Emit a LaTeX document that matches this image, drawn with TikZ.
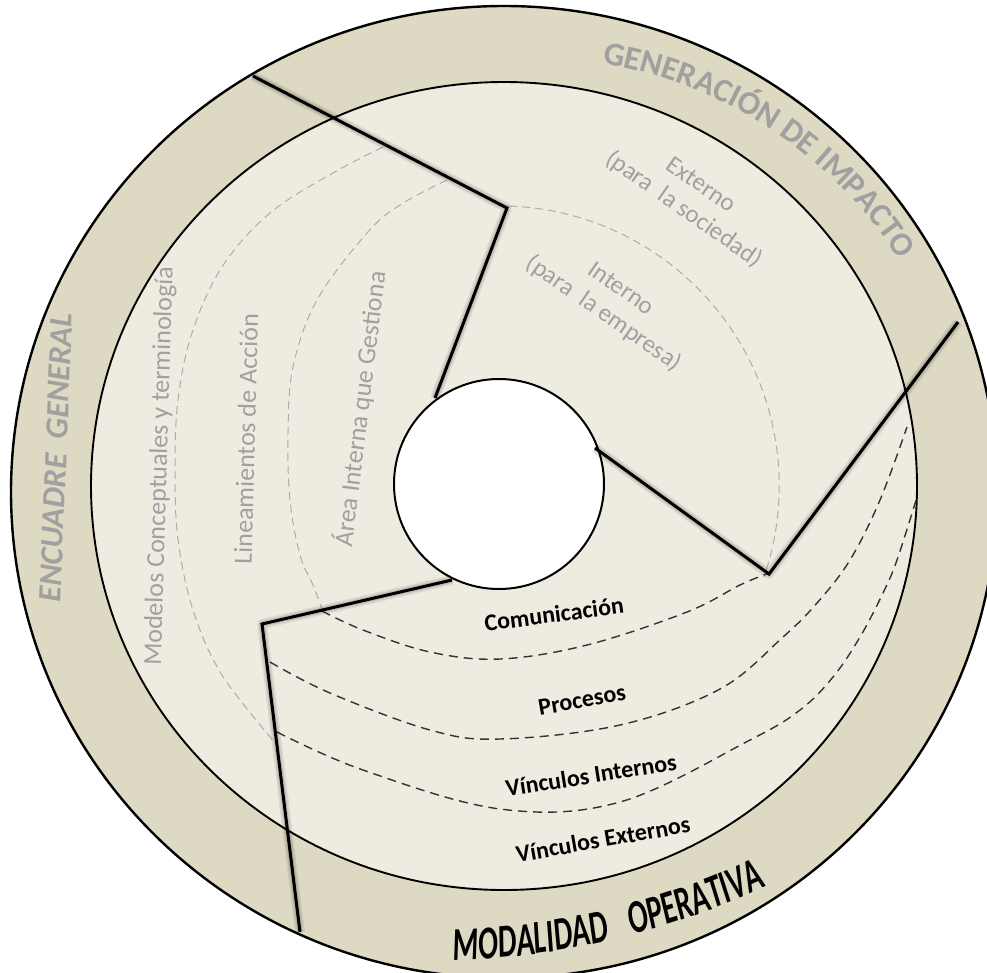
\documentclass[tikz,border=0pt]{standalone}
\usepackage{fontspec}
\setmainfont{Carlito}
\newfontfamily\bandfont[FakeStretch=0.63]{Carlito}
\usetikzlibrary{decorations.text}
\definecolor{band}{RGB}{221,217,195}
\definecolor{face}{RGB}{238,236,225}
\definecolor{labelgray}{RGB}{160,160,160}
\definecolor{guidegray}{RGB}{172,172,172}
\begin{document}
\begin{tikzpicture}[x=1pt,y=-1pt,
  rim/.style={line width=2.4pt},
  innerrim/.style={line width=1.9pt},
  divider/.style={line width=3pt, line join=miter},
  dividershade/.style={line width=#1, black, opacity=0.07, line join=round},
  softguide/.style={guidegray, line width=1pt, dash pattern=on 8pt off 5pt},
  darkguide/.style={black!80, line width=1.4pt, dash pattern=on 9pt off 6pt},
  sectorlabel/.style={labelgray, font=\fontsize{26}{29}\selectfont, inner sep=0pt},
  impactlabel/.style={labelgray, font=\fontsize{25}{30}\selectfont, align=center, inner sep=0pt},
  opslabel/.style={black, font=\bfseries\fontsize{24}{27}\selectfont, inner sep=0pt},
]
\useasboundingbox (0,0) rectangle (987,972);
\begin{scope}
\clip (0,0) rectangle (987,972);

% outer band and inner face of the disc
\fill[band] (504,492) ellipse [x radius=493, y radius=486];
\draw[rim] (504,492) ellipse [x radius=493, y radius=486];
\filldraw[fill=face, draw=black, innerrim] (504,486) ellipse [x radius=413, y radius=404];

% guide lines of the left sector
\draw[softguide] plot[smooth, tension=0.6] coordinates {(383,147) (333,173) (270,213) (222,267) (192,333) (178,400) (175,470) (178,539) (193,610) (222,675) (277,745)};
\draw[softguide] plot[smooth, tension=0.6] coordinates {(447,180) (400,205) (367,233) (317,300) (293,367) (288,433) (290,500) (300,555) (313,585) (322,609)};

% guide line of the upper sector
\draw[softguide] (509,206) arc[start angle=-88, end angle=19, radius=280];

% guide lines of the lower sector
\draw[darkguide] plot[smooth, tension=0.6] coordinates {(322,611) (363,630) (430,652) (500,659) (587,645) (687,612) (740,585) (769,573)};
\draw[darkguide] plot[smooth, tension=0.6] coordinates {(270,662) (330,693) (430,730) (500,739) (620,725) (720,689) (783,637) (817,603) (850,560) (880,500) (907,427)};
\draw[darkguide] plot[smooth, tension=0.6] coordinates {(277,732) (363,770) (500,809) (620,802) (750,740) (800,710) (833,677) (860,637) (883,593) (897,560) (917,497)};

% central hole
\filldraw[fill=white, draw=black, line width=2pt] (499,484) circle[radius=105];

% sector dividers
\coordinate (s1a) at (435,398);
\coordinate (s1b) at (507,208);
\coordinate (s1c) at (253,76);
\coordinate (s2a) at (595,448);
\coordinate (s2b) at (769,574);
\coordinate (s2c) at (958,322);
\coordinate (s3a) at (452,580);
\coordinate (s3b) at (262,624);
\coordinate (s3c) at (300,932);
\foreach \w in {10pt,7pt,5pt}{
  \draw[dividershade=\w] (s1a) -- (s1b) -- (s1c);
  \draw[dividershade=\w] (s2a) -- (s2b) -- (s2c);
  \draw[dividershade=\w] (s3a) -- (s3b) -- (s3c);
}
\draw[divider] (s1a) -- (s1b) -- (s1c);
\draw[divider] (s2a) -- (s2b) -- (s2c);
\draw[divider] (s3a) -- (s3b) -- (s3c);

% band titles
\node[labelgray, inner sep=0pt, font=\bfseries\itshape\fontsize{32.5}{32.5}\selectfont, rotate=87.6] (encuadre) at (56,458) {ENCUADRE\ \ GENERAL};
\path[decorate, decoration={text along path, text align=center, text color=labelgray,
  text={|\bfseries\fontsize{33}{33}\selectfont|GENERACIÓN DE IMPACTO}}]
  (530,495) ++(-82:437.6) arc[start angle=-82, end angle=-31, radius=437.6];
\path[decorate, decoration={text along path, text align=center, text color=black,
  text={|\bandfont\bfseries\itshape\fontsize{47}{47}\selectfont|MODALIDAD}}]
  (433.2,178.4) ++(88.2:782.2) arc[start angle=88.2, end angle=77.2, radius=782.2];
\path[decorate, decoration={text along path, text align=center, text color=black,
  text={|\bandfont\bfseries\itshape\fontsize{47}{47}\selectfont|OPERATIVA}}]
  (433.2,178.4) ++(76.2:782.2) arc[start angle=76.2, end angle=63.8, radius=782.2];

% sector contents
\node[sectorlabel, rotate=88.3] (modelos) at (160,466) {Modelos Conceptuales y terminología};
\node[sectorlabel, rotate=88.5] (lineamientos) at (246,439) {Lineamientos de Acción};
\node[sectorlabel, rotate=83] (area) at (360,409) {Área Interna que Gestiona};
\node[impactlabel, rotate=-35] (externo) at (692,198) {Externo\\(para\ \ la sociedad)};
\node[impactlabel, rotate=-35] (interno) at (612,302) {Interno\\(para\ \ la empresa)};
\node[opslabel, rotate=7.5] (comunicacion) at (554,614) {Comunicación};
\node[opslabel, rotate=10] (procesos) at (582,700) {Procesos};
\node[opslabel, rotate=9] (vinternos) at (591,775) {Vínculos Internos};
\node[opslabel, rotate=10] (vexternos) at (603,839) {Vínculos Externos};
\end{scope}
\end{tikzpicture}
\end{document}
